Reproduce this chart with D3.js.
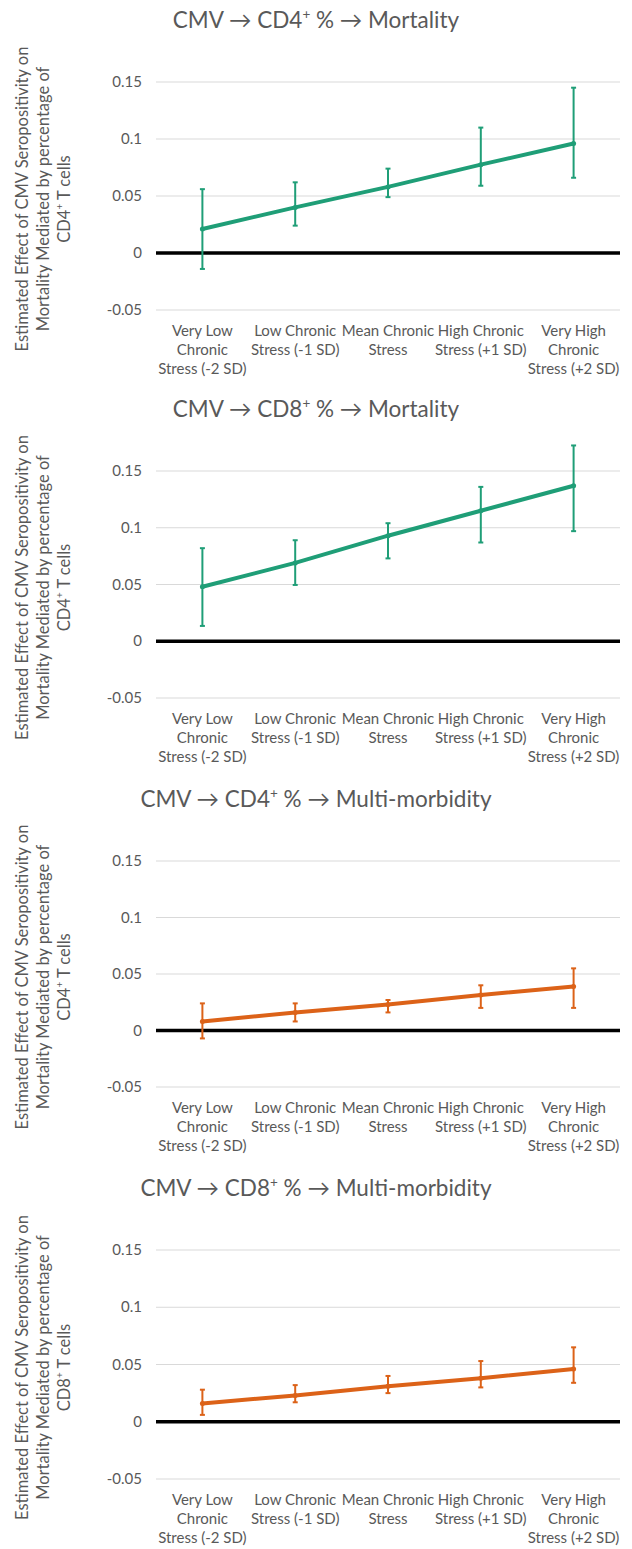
<!DOCTYPE html>
<html>
<head>
<meta charset="utf-8">
<script src="https://cdn.jsdelivr.net/npm/d3@7"></script>
<style>
  body { margin: 0; background: #fff; }
  text { font-family: Lato, "Noto Sans", "DejaVu Sans", sans-serif; fill: #595959; }
</style>
</head>
<body>
<script>
// chart data
const categories = [
  "Very Low\nChronic\nStress (-2 SD)",
  "Low Chronic\nStress (-1 SD)",
  "Mean Chronic\nStress",
  "High Chronic\nStress (+1 SD)",
  "Very High\nChronic\nStress (+2 SD)"
];
const yTicks = [-0.05, 0, 0.05, 0.1, 0.15];
const yTickLabels = ["-0.05", "0", "0.05", "0.1", "0.15"];

const titles = [
  "CMV → CD4⁺ % → Mortality",
  "CMV → CD8⁺ % → Mortality",
  "CMV → CD4⁺ % → Multi-morbidity",
  "CMV → CD8⁺ % → Multi-morbidity"
];
const yLabelLast = ["CD4⁺ T cells", "CD4⁺ T cells", "CD4⁺ T cells", "CD8⁺ T cells"];

const cd4MortEst = [0.021, 0.040, 0.058, 0.0775, 0.096];
const cd4MortLo  = [-0.014, 0.024, 0.049, 0.059, 0.066];
const cd4MortHi  = [0.056, 0.062, 0.074, 0.110, 0.145];

const cd8MortEst = [0.048, 0.069, 0.093, 0.115, 0.137];
const cd8MortLo  = [0.0135, 0.0496, 0.073, 0.087, 0.097];
const cd8MortHi  = [0.082, 0.089, 0.104, 0.136, 0.1725];

const cd4MultiEst = [0.008, 0.016, 0.023, 0.0315, 0.039];
const cd4MultiLo  = [-0.007, 0.008, 0.016, 0.020, 0.020];
const cd4MultiHi  = [0.024, 0.024, 0.027, 0.040, 0.055];

const cd8MultiEst = [0.016, 0.023, 0.031, 0.038, 0.046];
const cd8MultiLo  = [0.006, 0.017, 0.025, 0.030, 0.034];
const cd8MultiHi  = [0.028, 0.032, 0.040, 0.053, 0.065];

const green = "#1f9e77";
const orange = "#dc6218";

const width = 632, height = 1549;

// panels: the top (0.15) and bottom (-0.05) gridline of each
const panels = [
  {est: cd4MortEst,  lo: cd4MortLo,  hi: cd4MortHi,  color: green,  top: 82,   bottom: 310},
  {est: cd8MortEst,  lo: cd8MortLo,  hi: cd8MortHi,  color: green,  top: 471,  bottom: 698},
  {est: cd4MultiEst, lo: cd4MultiLo, hi: cd4MultiHi, color: orange, top: 861,  bottom: 1087},
  {est: cd8MultiEst, lo: cd8MultiLo, hi: cd8MultiHi, color: orange, top: 1250, bottom: 1479}
];

const svg = d3.select("body").append("svg")
  .attr("width", width)
  .attr("height", height);

svg.append("rect").attr("width", width).attr("height", height).attr("fill", "#fff");

// write text, turning "⁺" into a raised small "+"
function richText(sel, str, size) {
  let back = 0;
  str.split(/(⁺)/).forEach(part => {
    if (part === "⁺") {
      sel.append("tspan").attr("font-size", size * 0.6).attr("dy", -size * 0.4).text("+");
      back = size * 0.4;
    } else if (part.length) {
      sel.append("tspan").attr("dy", back).text(part);
      back = 0;
    }
  });
}

const x = d3.scaleBand().domain(d3.range(categories.length)).range([156, 620]);

panels.forEach((p, k) => {
  const g = svg.append("g");
  const y = d3.scaleLinear().domain([-0.05, 0.15]).range([p.bottom, p.top]);

  // title
  const t = g.append("text")
    .attr("x", 316)
    .attr("y", p.top - 54)
    .attr("text-anchor", "middle")
    .attr("font-size", 22.5);
  richText(t, titles[k], 22.5);

  // gridlines
  g.selectAll("line.grid")
    .data(yTicks.filter(v => v !== 0))
    .enter().append("line")
    .attr("class", "grid")
    .attr("x1", 156).attr("x2", 620)
    .attr("y1", d => y(d)).attr("y2", d => y(d))
    .attr("stroke", "#d9d9d9")
    .attr("stroke-width", 1);

  // tick labels
  g.selectAll("text.tick")
    .data(yTicks)
    .enter().append("text")
    .attr("class", "tick")
    .attr("x", 142)
    .attr("y", d => y(d) + 5)
    .attr("text-anchor", "end")
    .attr("font-size", 15)
    .text((d, i) => yTickLabels[i]);

  // zero line
  g.append("line")
    .attr("x1", 156).attr("x2", 620)
    .attr("y1", y(0)).attr("y2", y(0))
    .attr("stroke", "#000")
    .attr("stroke-width", 3.5);

  // category labels
  categories.forEach((c, i) => {
    const lab = g.append("text")
      .attr("text-anchor", "middle")
      .attr("font-size", 15);
    c.split("\n").forEach((line, j) => {
      lab.append("tspan")
        .attr("x", x(i) + x.bandwidth() / 2)
        .attr("y", p.bottom + 26 + j * 19)
        .text(line);
    });
  });

  // y axis title
  const cy = (p.top + p.bottom) / 2 + 3;
  const yLines = ["Estimated Effect of CMV Seropositivity on", "Mortality Mediated by percentage of", yLabelLast[k]];
  yLines.forEach((line, j) => {
    const yt = g.append("text")
      .attr("transform", `translate(${28 + j * 21},${cy}) rotate(-90)`)
      .attr("text-anchor", "middle")
      .attr("font-size", 16.5);
    richText(yt, line, 16.5);
  });

  const cx = i => x(i) + x.bandwidth() / 2;

  // error bars
  const eb = g.selectAll("g.err")
    .data(p.est.map((d, i) => i))
    .enter().append("g")
    .attr("class", "err");
  eb.append("line")
    .attr("x1", cx).attr("x2", cx)
    .attr("y1", i => y(p.lo[i])).attr("y2", i => y(p.hi[i]))
    .attr("stroke", p.color).attr("stroke-width", 2);
  eb.append("line")
    .attr("x1", i => cx(i) - 2.5).attr("x2", i => cx(i) + 2.5)
    .attr("y1", i => y(p.lo[i])).attr("y2", i => y(p.lo[i]))
    .attr("stroke", p.color).attr("stroke-width", 2);
  eb.append("line")
    .attr("x1", i => cx(i) - 2.5).attr("x2", i => cx(i) + 2.5)
    .attr("y1", i => y(p.hi[i])).attr("y2", i => y(p.hi[i]))
    .attr("stroke", p.color).attr("stroke-width", 2);

  // line
  g.append("path")
    .datum(p.est)
    .attr("fill", "none")
    .attr("stroke", p.color)
    .attr("stroke-width", 4)
    .attr("d", d3.line().x((d, i) => cx(i)).y(d => y(d)));

  g.selectAll("circle.pt")
    .data(p.est)
    .enter().append("circle")
    .attr("class", "pt")
    .attr("cx", (d, i) => cx(i))
    .attr("cy", d => y(d))
    .attr("r", 2.5)
    .attr("fill", p.color);
});
</script>
</body>
</html>
